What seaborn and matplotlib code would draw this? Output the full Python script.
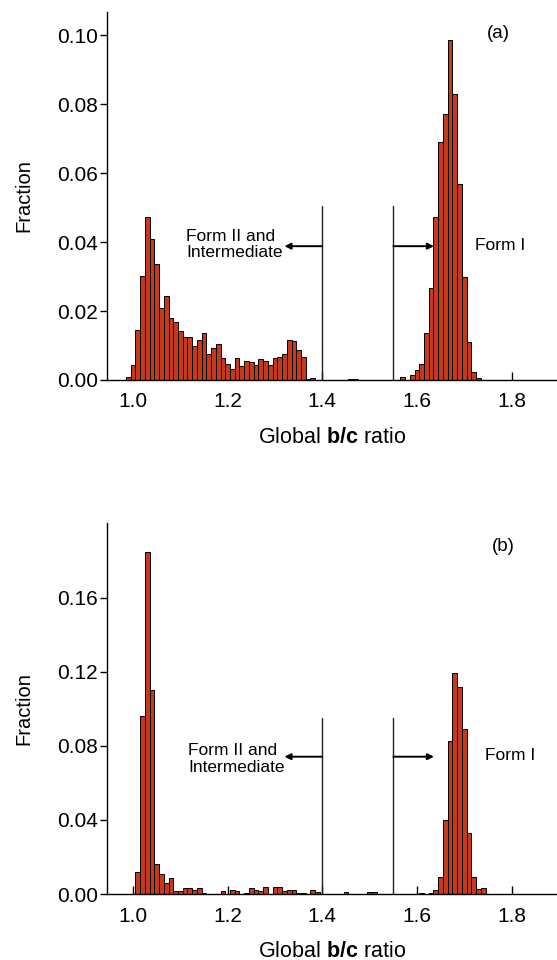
import numpy as np
import pandas as pd
import matplotlib
matplotlib.use("Agg")
import matplotlib.pyplot as plt
import seaborn as sns

# ---------------- data ----------------
# Panel (a): bin centres (global b/c ratio) and fraction
ratio_a = [0.99, 1.00, 1.01, 1.02, 1.03, 1.04, 1.05, 1.06, 1.07, 1.08,
           1.09, 1.10, 1.11, 1.12, 1.13, 1.14, 1.15, 1.16, 1.17, 1.18,
           1.19, 1.20, 1.21, 1.22, 1.23, 1.24, 1.25, 1.26, 1.27, 1.28,
           1.29, 1.30, 1.31, 1.32, 1.33, 1.34, 1.35, 1.36, 1.37, 1.38,
           1.46, 1.47,
           1.57, 1.59, 1.60, 1.61, 1.62, 1.63, 1.64, 1.65, 1.66, 1.67,
           1.68, 1.69, 1.70, 1.71, 1.72, 1.73]
frac_a = [0.0008, 0.0043, 0.0145, 0.0301, 0.0473, 0.0410, 0.0336, 0.0208, 0.0243, 0.0180,
          0.0167, 0.0143, 0.0126, 0.0126, 0.0100, 0.0116, 0.0135, 0.0074, 0.0092, 0.0103,
          0.0064, 0.0046, 0.0031, 0.0065, 0.0040, 0.0055, 0.0052, 0.0044, 0.0061, 0.0056,
          0.0044, 0.0065, 0.0068, 0.0074, 0.0117, 0.0112, 0.0086, 0.0066, 0.0004, 0.0005,
          0.0003, 0.0003,
          0.0008, 0.0015, 0.0030, 0.0046, 0.0135, 0.0268, 0.0472, 0.0690, 0.0770, 0.0985,
          0.0830, 0.0568, 0.0298, 0.0109, 0.0022, 0.0006]

# Panel (b)
ratio_b = [1.01, 1.02, 1.03, 1.04, 1.05, 1.06, 1.07, 1.08, 1.09, 1.10,
           1.11, 1.12, 1.13, 1.14, 1.15, 1.19, 1.21, 1.22, 1.24, 1.25,
           1.26, 1.27, 1.28, 1.30, 1.31, 1.32, 1.33, 1.34, 1.35, 1.36,
           1.38, 1.39, 1.45, 1.50, 1.51,
           1.61, 1.63, 1.64, 1.65, 1.66, 1.67, 1.68, 1.69, 1.70, 1.71,
           1.72, 1.73, 1.74]
frac_b = [0.0120, 0.0962, 0.1850, 0.1100, 0.0160, 0.0110, 0.0060, 0.0088, 0.0018, 0.0018,
          0.0030, 0.0030, 0.0020, 0.0030, 0.0007, 0.0018, 0.0020, 0.0018, 0.0007, 0.0030,
          0.0020, 0.0015, 0.0040, 0.0040, 0.0040, 0.0015, 0.0020, 0.0020, 0.0008, 0.0008,
          0.0020, 0.0010, 0.0010, 0.0010, 0.0010,
          0.0008, 0.0008, 0.0020, 0.0090, 0.0400, 0.0825, 0.1196, 0.1120, 0.0890, 0.0330,
          0.0090, 0.0025, 0.0030]

xticks = [1.0, 1.2, 1.4, 1.6, 1.8]
xtick_labels = ["1.0", "1.2", "1.4", "1.6", "1.8"]
yticks_a = [0.00, 0.02, 0.04, 0.06, 0.08, 0.10]
ytick_labels_a = ["0.00", "0.02", "0.04", "0.06", "0.08", "0.10"]
yticks_b = [0.00, 0.04, 0.08, 0.12, 0.16]
ytick_labels_b = ["0.00", "0.04", "0.08", "0.12", "0.16"]

cut_low, cut_high = 1.40, 1.55
panel_labels = ["(a)", "(b)"]
bin_width = 0.01

# ---------------- style ----------------
sns.set_style("ticks")
plt.rcParams['font.family'] = ['Liberation Sans', 'DejaVu Sans']
plt.rcParams['mathtext.fontset'] = 'custom'
plt.rcParams['mathtext.rm'] = 'Liberation Sans'
plt.rcParams['mathtext.bf'] = 'Liberation Sans:bold'
plt.rcParams['axes.linewidth'] = 1.0
for k in ['text.color', 'axes.labelcolor', 'xtick.color', 'ytick.color', 'axes.edgecolor']:
    plt.rcParams[k] = 'black'

bar_color = "#c8391a"
W, H = 557, 960
fig = plt.figure(figsize=(W / 100, H / 100), dpi=100)

def axes_rect(left_px, top_px, right_px, bottom_px):
    return [left_px / W, 1 - bottom_px / H, (right_px - left_px) / W, (bottom_px - top_px) / H]

ax_a = fig.add_axes(axes_rect(107, 12, 557, 380))
ax_b = fig.add_axes(axes_rect(107, 523, 557, 894))

xmin, xmax = 0.945, 1.896

def draw_panel(ax, ratio, frac, ylim_top, yticks, yticklabels, label, label_pos,
               line_top, arrow_y, text2_pos, form1_pos):
    df = pd.DataFrame({"ratio": ratio, "fraction": frac})
    lo = min(ratio) - bin_width / 2
    hi = max(ratio) + bin_width / 2
    sns.histplot(data=df, x="ratio", weights="fraction", binwidth=bin_width,
                 binrange=(lo, hi), stat="count",
                 color=bar_color, edgecolor="black", linewidth=0.7, alpha=1.0, ax=ax)
    ax.set_xlim(xmin, xmax)
    ax.set_ylim(0, ylim_top)
    ax.set_xticks(xticks)
    ax.set_xticklabels(xtick_labels)
    ax.set_yticks(yticks)
    ax.set_yticklabels(yticklabels)
    ax.tick_params(axis="x", direction="in", length=6, width=1.0, pad=9, labelsize=15)
    ax.tick_params(axis="y", direction="out", length=5, width=1.0, pad=1.5, labelsize=15)
    sns.despine(ax=ax)
    ax.set_xlabel("Global $\\mathbf{b/c}$ ratio", fontsize=15.5, labelpad=11)
    ax.set_ylabel("Fraction", fontsize=14.5, labelpad=17)
    # cut-off lines
    ax.plot([cut_low, cut_low], [0, line_top], color="#222222", lw=1.0)
    ax.plot([cut_high, cut_high], [0, line_top], color="#222222", lw=1.0)
    # arrows
    ax.annotate("", xy=(1.320, arrow_y), xytext=(cut_low, arrow_y),
                arrowprops=dict(arrowstyle="-|>", color="black", lw=1.4,
                                mutation_scale=9, shrinkA=0, shrinkB=0))
    ax.annotate("", xy=(1.636, arrow_y), xytext=(cut_high, arrow_y),
                arrowprops=dict(arrowstyle="-|>", color="black", lw=1.4,
                                mutation_scale=9, shrinkA=0, shrinkB=0))
    ax.text(text2_pos[0], text2_pos[1], "Form II and\nIntermediate", ha="left", va="center",
            fontsize=12.5, linespacing=1.1)
    ax.text(form1_pos[0], form1_pos[1], "Form I", ha="left", va="center", fontsize=12.5)
    ax.text(label_pos[0], label_pos[1], label, ha="center", va="center", fontsize=13.5)

draw_panel(ax_a, ratio_a, frac_a, 0.1067, yticks_a, ytick_labels_a, panel_labels[0],
           (1.772, 0.1005), 0.0505, 0.0388, (1.113, 0.0394), (1.723, 0.039))
draw_panel(ax_b, ratio_b, frac_b, 0.2005, yticks_b, ytick_labels_b, panel_labels[1],
           (1.783, 0.1877), 0.095, 0.0742, (1.117, 0.073), (1.744, 0.075))

fig.savefig("out.png", dpi=100)
